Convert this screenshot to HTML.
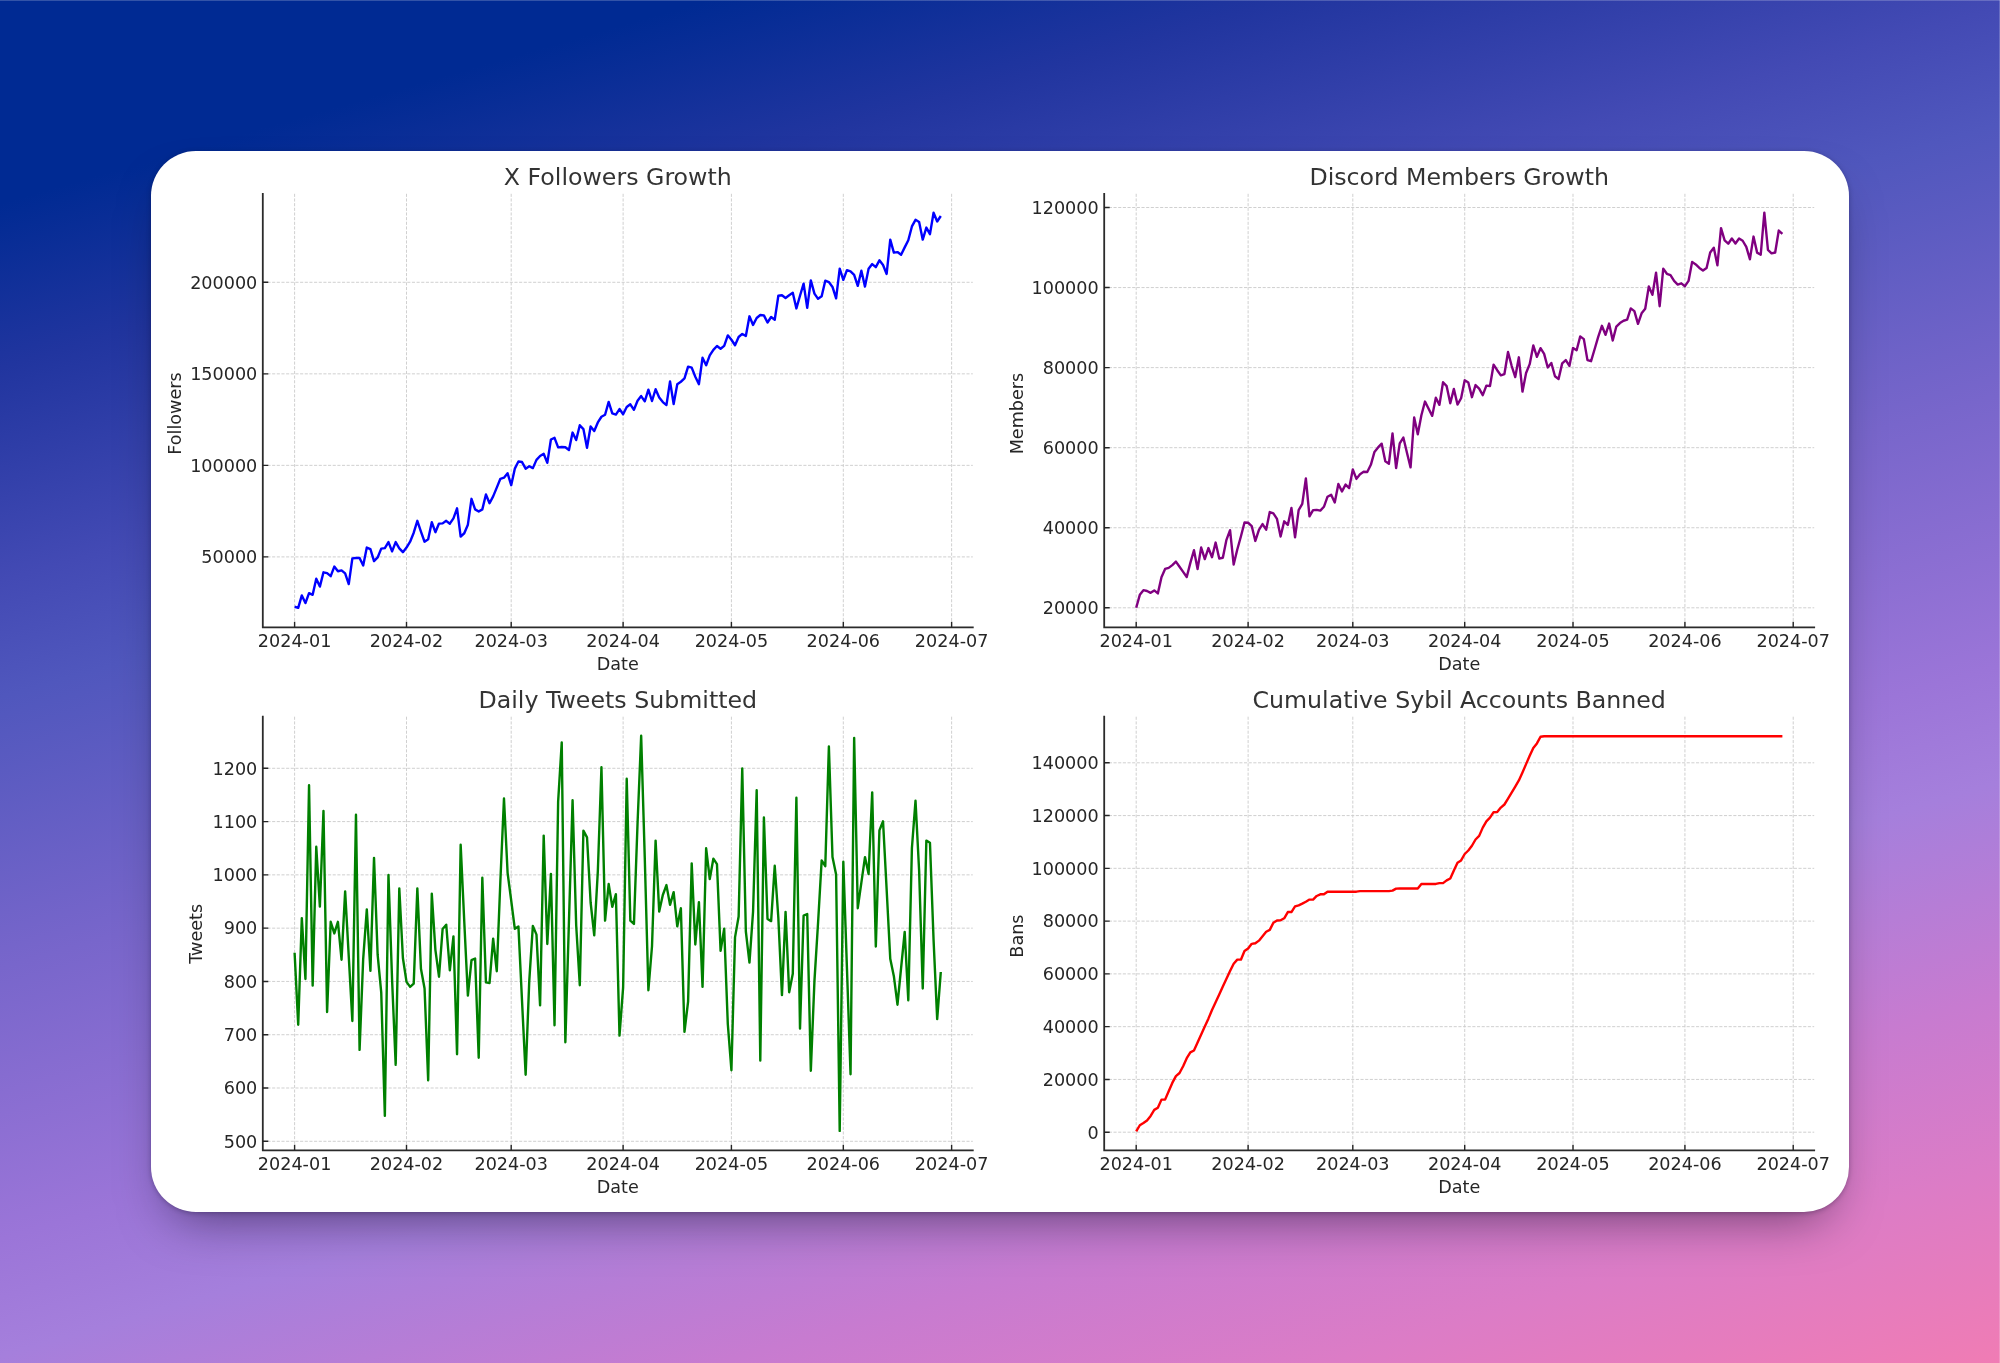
<!DOCTYPE html>
<html lang="en"><head><meta charset="utf-8"><title>Growth Charts</title>
<style>
html,body{margin:0;padding:0}
body{width:2000px;height:1363px;overflow:hidden;position:relative;font-family:"DejaVu Sans","Liberation Sans",sans-serif;
background:linear-gradient(164deg,#002a93 0%,#002a93 10.5%,#21359f 19%,#434ab4 30%,#5057bd 36%,#7866cb 50%,#9b75d8 64%,#a57fdc 70%,#c77bd0 81%,#dc7cc6 90%,#f07cb4 100%);}
.card{position:absolute;left:150.6px;top:150.7px;width:1698.6px;height:1061.5px;background:#fff;border-radius:45px;
box-shadow:0 25px 50px -20px rgba(8,0,20,.5),0 1px 5px rgba(10,0,40,.28);}
.edge-t{position:absolute;left:0;top:0;width:100%;height:1px;background:rgba(255,255,255,.2)}
.edge-r{position:absolute;right:0;top:0;width:1px;height:100%;background:rgba(255,255,255,.2)}
svg{position:absolute;left:0;top:0;filter:blur(.4px)}
.grid{fill:none;stroke:#cecece;stroke-width:.95;stroke-dasharray:3.1 1.56}
  .spine{fill:none;stroke:#2b2b2b;stroke-width:1.8;stroke-linecap:square}
.tick{fill:none;stroke:#262626;stroke-width:1.4}
.tl{font-size:17.6px;fill:#262626}
.tt{font-size:23.7px;fill:#333333}
</style></head><body>
<div class="edge-t"></div><div class="edge-r"></div>
<div class="card"></div>
<svg width="2000" height="1363" viewBox="0 0 2000 1363" font-family="DejaVu Sans, Liberation Sans, sans-serif">
<g><path d="M294.60 193.80V627.30M406.51 193.80V627.30M511.20 193.80V627.30M623.11 193.80V627.30M731.41 193.80V627.30M843.32 193.80V627.30M951.62 193.80V627.30M262.80 556.90H972.80M262.80 465.37H972.80M262.80 373.83H972.80M262.80 282.30H972.80" class="grid"/>
<polyline points="294.60,606.74 298.21,607.84 301.82,595.41 305.43,603.11 309.04,593.21 312.65,594.86 316.26,578.69 319.87,586.61 323.48,572.31 327.09,573.19 330.70,576.16 334.31,566.59 337.92,571.21 341.53,570.33 345.14,573.41 348.75,584.08 352.36,558.34 355.97,558.01 359.58,558.01 363.19,565.49 366.80,547.56 370.41,549.21 374.02,561.09 377.63,557.46 381.24,548.66 384.85,548.11 388.46,542.06 392.07,551.41 395.68,542.06 399.29,548.33 402.90,552.18 406.51,547.56 410.12,541.73 413.73,532.71 417.34,520.83 420.95,531.61 424.56,541.73 428.17,539.31 431.78,522.26 435.39,532.16 439.00,523.58 442.61,523.36 446.22,520.83 449.83,523.69 453.44,518.40 457.05,508.28 460.66,536.56 464.27,533.26 467.88,524.68 471.49,498.82 475.10,509.38 478.71,511.58 482.32,509.38 485.93,494.42 489.54,503.22 493.15,496.40 496.76,487.60 500.37,478.80 503.98,477.70 507.59,473.30 511.20,485.17 514.81,468.66 518.42,461.51 522.03,462.06 525.64,468.66 529.25,466.24 532.86,468.11 536.47,459.86 540.08,456.01 543.69,453.81 547.30,462.83 550.91,439.51 554.52,437.86 558.13,447.43 561.74,446.99 565.35,447.21 568.96,449.96 572.57,432.58 576.18,440.06 579.79,425.21 583.40,429.06 587.01,447.76 590.62,426.53 594.23,431.04 597.84,422.46 601.45,416.74 605.06,414.76 608.67,401.89 612.28,413.44 615.89,414.54 619.50,409.04 623.11,414.21 626.72,407.06 630.33,404.31 633.94,409.81 637.55,400.79 641.16,396.06 644.77,401.34 648.38,389.68 651.99,401.01 655.60,389.24 659.21,397.49 662.82,402.11 666.43,405.08 670.04,381.42 673.65,403.98 677.26,384.17 680.87,381.75 684.48,378.45 688.09,366.68 691.70,367.67 695.31,376.80 698.92,384.17 702.53,357.77 706.14,365.25 709.75,355.35 713.36,349.85 716.97,346.00 720.58,348.75 724.19,345.81 727.80,335.36 731.41,339.76 735.02,345.26 738.63,337.01 742.24,333.93 745.85,335.91 749.46,316.33 753.07,324.91 756.68,317.98 760.29,315.01 763.90,315.34 767.51,322.49 771.12,316.99 774.73,319.74 778.34,295.76 781.95,295.21 785.56,297.96 789.17,295.21 792.78,292.79 796.39,308.41 800.00,295.76 803.61,283.66 807.22,307.86 810.83,280.36 814.44,293.56 818.05,298.84 821.66,296.31 825.27,280.69 828.88,282.01 832.49,286.96 836.10,298.29 839.71,268.59 843.32,279.81 846.93,270.13 850.54,271.34 854.15,274.86 857.76,285.86 861.37,270.68 864.98,286.63 868.59,268.81 872.20,264.08 875.81,267.16 879.42,260.34 883.03,264.96 886.64,273.98 890.25,239.65 893.86,252.63 897.47,252.08 901.08,254.72 904.69,247.35 908.30,240.20 911.91,226.45 915.52,219.85 919.13,222.05 922.74,239.65 926.35,227.55 929.96,234.15 933.57,212.70 937.18,221.50 940.79,216.00" fill="none" stroke="#0000ff" stroke-width="2.4" stroke-linejoin="round" stroke-linecap="butt"/>
<path d="M262.80 193.80V627.30H972.80" class="spine"/>
<path d="M294.60 627.30v-5.5M406.51 627.30v-5.5M511.20 627.30v-5.5M623.11 627.30v-5.5M731.41 627.30v-5.5M843.32 627.30v-5.5M951.62 627.30v-5.5M262.80 556.90h5.5M262.80 465.37h5.5M262.80 373.83h5.5M262.80 282.30h5.5" class="tick"/>
<text x="294.60" y="646.90" class="tl" text-anchor="middle">2024-01</text>
<text x="406.51" y="646.90" class="tl" text-anchor="middle">2024-02</text>
<text x="511.20" y="646.90" class="tl" text-anchor="middle">2024-03</text>
<text x="623.11" y="646.90" class="tl" text-anchor="middle">2024-04</text>
<text x="731.41" y="646.90" class="tl" text-anchor="middle">2024-05</text>
<text x="843.32" y="646.90" class="tl" text-anchor="middle">2024-06</text>
<text x="951.62" y="646.90" class="tl" text-anchor="middle">2024-07</text>
<text x="257.30" y="563.20" class="tl" text-anchor="end">50000</text>
<text x="257.30" y="471.67" class="tl" text-anchor="end">100000</text>
<text x="257.30" y="380.13" class="tl" text-anchor="end">150000</text>
<text x="257.30" y="288.60" class="tl" text-anchor="end">200000</text>
<text x="617.80" y="669.70" class="tl" text-anchor="middle">Date</text>
<text x="617.80" y="184.70" class="tt" text-anchor="middle">X Followers Growth</text>
<text transform="translate(181 413.55) rotate(-90)" class="tl" text-anchor="middle">Followers</text></g>
<g><path d="M1136.20 193.80V627.30M1248.11 193.80V627.30M1352.80 193.80V627.30M1464.71 193.80V627.30M1573.01 193.80V627.30M1684.92 193.80V627.30M1793.22 193.80V627.30M1104.20 607.80H1814.20M1104.20 527.74H1814.20M1104.20 447.68H1814.20M1104.20 367.62H1814.20M1104.20 287.56H1814.20M1104.20 207.50H1814.20" class="grid"/>
<polyline points="1136.20,607.79 1139.81,594.81 1143.42,590.19 1147.03,590.96 1150.64,592.83 1154.25,590.41 1157.86,593.38 1161.47,577.21 1165.08,568.96 1168.69,567.86 1172.30,565.11 1175.91,561.59 1179.52,566.76 1183.13,571.93 1186.74,576.99 1190.35,562.91 1193.96,550.26 1197.57,568.96 1201.18,547.51 1204.79,559.06 1208.40,548.06 1212.01,557.19 1215.62,542.56 1219.23,558.51 1222.84,557.74 1226.45,539.81 1230.06,530.13 1233.67,564.56 1237.28,549.49 1240.89,536.51 1244.50,522.54 1248.11,522.76 1251.72,526.06 1255.33,540.91 1258.94,529.91 1262.55,524.08 1266.16,529.69 1269.77,512.08 1273.38,513.40 1276.99,518.91 1280.60,536.51 1284.21,521.33 1287.82,524.96 1291.43,507.90 1295.04,537.39 1298.65,510.10 1302.26,503.83 1305.87,478.42 1309.48,516.38 1313.09,510.10 1316.70,509.88 1320.31,510.65 1323.92,506.80 1327.53,496.68 1331.14,494.70 1334.75,502.40 1338.36,483.92 1341.97,491.40 1345.58,484.58 1349.19,488.10 1352.80,469.43 1356.41,478.89 1360.02,474.16 1363.63,471.74 1367.24,471.96 1370.85,464.81 1374.46,451.94 1378.07,447.43 1381.68,443.69 1385.29,461.29 1388.90,463.71 1392.51,433.46 1396.12,468.11 1399.73,443.36 1403.34,437.53 1406.95,452.71 1410.56,467.34 1414.17,417.51 1417.78,434.34 1421.39,415.31 1425.00,401.56 1428.61,408.71 1432.22,415.86 1435.83,397.71 1439.44,404.86 1443.05,382.30 1446.66,386.16 1450.27,403.21 1453.88,388.91 1457.49,404.53 1461.10,398.26 1464.71,380.32 1468.32,382.52 1471.93,397.16 1475.54,385.06 1479.15,388.58 1482.76,395.18 1486.37,385.61 1489.98,385.94 1493.59,364.70 1497.20,370.20 1500.81,375.37 1504.42,374.05 1508.03,352.05 1511.64,365.80 1515.25,377.02 1518.86,357.33 1522.47,391.66 1526.08,372.95 1529.69,364.15 1533.30,345.45 1536.91,356.78 1540.52,348.20 1544.13,353.92 1547.74,367.45 1551.35,363.05 1554.96,376.25 1558.57,379.00 1562.18,363.38 1565.79,360.10 1569.40,365.90 1573.01,348.00 1576.62,350.20 1580.23,336.40 1583.84,339.10 1587.45,360.10 1591.06,361.20 1594.67,349.00 1598.28,336.68 1601.89,325.79 1605.50,334.81 1609.11,323.59 1612.72,340.53 1616.33,326.56 1619.94,323.04 1623.55,320.73 1627.16,319.63 1630.77,308.41 1634.38,311.16 1637.99,323.81 1641.60,313.36 1645.21,308.74 1648.82,286.41 1652.43,294.88 1656.04,272.66 1659.65,306.21 1663.26,268.59 1666.87,273.76 1670.48,275.08 1674.09,280.91 1677.70,284.54 1681.31,283.33 1684.92,286.19 1688.53,280.91 1692.14,261.88 1695.75,264.41 1699.36,267.93 1702.97,270.46 1706.58,267.93 1710.19,252.52 1713.80,247.68 1717.41,265.29 1721.02,228.10 1724.63,240.42 1728.24,243.72 1731.85,238.55 1735.46,243.50 1739.07,238.55 1742.68,240.75 1746.29,246.80 1749.90,259.24 1753.51,236.57 1757.12,252.63 1760.73,254.72 1764.34,212.70 1767.95,249.88 1771.56,253.40 1775.17,252.52 1778.78,230.52 1782.39,233.82" fill="none" stroke="#800080" stroke-width="2.4" stroke-linejoin="round" stroke-linecap="butt"/>
<path d="M1104.20 193.80V627.30H1814.20" class="spine"/>
<path d="M1136.20 627.30v-5.5M1248.11 627.30v-5.5M1352.80 627.30v-5.5M1464.71 627.30v-5.5M1573.01 627.30v-5.5M1684.92 627.30v-5.5M1793.22 627.30v-5.5M1104.20 607.80h5.5M1104.20 527.74h5.5M1104.20 447.68h5.5M1104.20 367.62h5.5M1104.20 287.56h5.5M1104.20 207.50h5.5" class="tick"/>
<text x="1136.20" y="646.90" class="tl" text-anchor="middle">2024-01</text>
<text x="1248.11" y="646.90" class="tl" text-anchor="middle">2024-02</text>
<text x="1352.80" y="646.90" class="tl" text-anchor="middle">2024-03</text>
<text x="1464.71" y="646.90" class="tl" text-anchor="middle">2024-04</text>
<text x="1573.01" y="646.90" class="tl" text-anchor="middle">2024-05</text>
<text x="1684.92" y="646.90" class="tl" text-anchor="middle">2024-06</text>
<text x="1793.22" y="646.90" class="tl" text-anchor="middle">2024-07</text>
<text x="1098.70" y="614.10" class="tl" text-anchor="end">20000</text>
<text x="1098.70" y="534.04" class="tl" text-anchor="end">40000</text>
<text x="1098.70" y="453.98" class="tl" text-anchor="end">60000</text>
<text x="1098.70" y="373.92" class="tl" text-anchor="end">80000</text>
<text x="1098.70" y="293.86" class="tl" text-anchor="end">100000</text>
<text x="1098.70" y="213.80" class="tl" text-anchor="end">120000</text>
<text x="1459.20" y="669.70" class="tl" text-anchor="middle">Date</text>
<text x="1459.20" y="184.70" class="tt" text-anchor="middle">Discord Members Growth</text>
<text transform="translate(1023 413.55) rotate(-90)" class="tl" text-anchor="middle">Members</text></g>
<g><path d="M294.60 716.70V1150.30M406.51 716.70V1150.30M511.20 716.70V1150.30M623.11 716.70V1150.30M731.41 716.70V1150.30M843.32 716.70V1150.30M951.62 716.70V1150.30M262.80 1141.30H972.80M262.80 1088.01H972.80M262.80 1034.73H972.80M262.80 981.44H972.80M262.80 928.16H972.80M262.80 874.87H972.80M262.80 821.59H972.80M262.80 768.30H972.80" class="grid"/>
<polyline points="294.60,952.70 298.21,1024.80 301.82,918.10 305.43,979.00 309.04,785.30 312.65,985.60 316.26,846.70 319.87,906.60 323.48,810.90 327.09,1012.00 330.70,921.80 334.31,933.40 337.92,921.80 341.53,959.70 345.14,891.40 348.75,956.40 352.36,1021.00 355.97,814.70 359.58,1049.90 363.19,958.80 366.80,909.40 370.41,970.90 374.02,857.90 377.63,954.70 381.24,992.70 384.85,1115.90 388.46,874.90 392.07,979.50 395.68,1064.90 399.29,888.40 402.90,958.00 406.51,981.90 410.12,986.90 413.73,983.60 417.34,888.40 420.95,968.70 424.56,988.50 428.17,1080.40 431.78,893.70 435.39,949.80 439.00,976.70 442.61,929.00 446.22,924.70 449.83,970.40 453.44,936.40 457.05,1054.20 460.66,844.70 464.27,921.70 467.88,995.60 471.49,960.10 475.10,958.50 478.71,1057.80 482.32,877.70 485.93,982.40 489.54,983.10 493.15,938.70 496.76,971.20 500.37,881.00 503.98,798.50 507.59,872.80 511.20,900.50 514.81,928.80 518.42,926.40 522.03,1001.00 525.64,1074.80 529.25,981.10 532.86,925.90 536.47,934.60 540.08,1005.40 543.69,835.60 547.30,944.00 550.91,873.90 554.52,1025.30 558.13,801.80 561.74,742.40 565.35,1042.20 568.96,921.10 572.57,800.20 576.18,925.30 579.79,985.20 583.40,830.70 587.01,837.30 590.62,902.50 594.23,935.40 597.84,871.10 601.45,767.20 605.06,920.60 608.67,884.00 612.28,906.90 615.89,894.20 619.50,1035.60 623.11,987.70 626.72,778.70 630.33,920.60 633.94,923.90 637.55,823.30 641.16,735.80 644.77,858.00 648.38,990.20 651.99,946.50 655.60,840.60 659.21,911.60 662.82,895.00 666.43,885.10 670.04,904.90 673.65,892.20 677.26,926.40 680.87,908.20 684.48,1031.90 688.09,1001.70 691.70,863.40 695.31,944.50 698.92,902.10 702.53,986.90 706.14,848.30 709.75,879.00 713.36,858.70 716.97,864.20 720.58,950.90 724.19,928.70 727.80,1024.00 731.41,1070.20 735.02,937.40 738.63,916.50 742.24,768.50 745.85,931.50 749.46,962.60 753.07,911.50 756.68,790.30 760.29,1060.60 763.90,817.50 767.51,919.00 771.12,921.10 774.73,865.80 778.34,918.00 781.95,995.10 785.56,911.90 789.17,992.20 792.78,973.70 796.39,797.70 800.00,1028.60 803.61,915.70 807.22,914.00 810.83,1070.70 814.44,981.10 818.05,923.00 821.66,860.40 825.27,866.20 828.88,746.50 832.49,857.10 836.10,874.40 839.71,1130.90 843.32,861.70 846.93,967.90 850.54,1074.30 854.15,737.90 857.76,908.20 861.37,882.70 864.98,857.10 868.59,874.10 872.20,792.40 875.81,946.50 879.42,830.40 883.03,821.30 886.64,889.50 890.25,958.80 893.86,976.20 897.47,1004.70 901.08,968.20 904.69,931.90 908.30,1000.40 911.91,848.00 915.52,800.70 919.13,871.00 922.74,988.50 926.35,840.60 929.96,842.70 933.57,940.00 937.18,1019.10 940.79,972.00" fill="none" stroke="#008000" stroke-width="2.4" stroke-linejoin="round" stroke-linecap="butt"/>
<path d="M262.80 716.70V1150.30H972.80" class="spine"/>
<path d="M294.60 1150.30v-5.5M406.51 1150.30v-5.5M511.20 1150.30v-5.5M623.11 1150.30v-5.5M731.41 1150.30v-5.5M843.32 1150.30v-5.5M951.62 1150.30v-5.5M262.80 1141.30h5.5M262.80 1088.01h5.5M262.80 1034.73h5.5M262.80 981.44h5.5M262.80 928.16h5.5M262.80 874.87h5.5M262.80 821.59h5.5M262.80 768.30h5.5" class="tick"/>
<text x="294.60" y="1169.90" class="tl" text-anchor="middle">2024-01</text>
<text x="406.51" y="1169.90" class="tl" text-anchor="middle">2024-02</text>
<text x="511.20" y="1169.90" class="tl" text-anchor="middle">2024-03</text>
<text x="623.11" y="1169.90" class="tl" text-anchor="middle">2024-04</text>
<text x="731.41" y="1169.90" class="tl" text-anchor="middle">2024-05</text>
<text x="843.32" y="1169.90" class="tl" text-anchor="middle">2024-06</text>
<text x="951.62" y="1169.90" class="tl" text-anchor="middle">2024-07</text>
<text x="257.30" y="1147.60" class="tl" text-anchor="end">500</text>
<text x="257.30" y="1094.31" class="tl" text-anchor="end">600</text>
<text x="257.30" y="1041.03" class="tl" text-anchor="end">700</text>
<text x="257.30" y="987.74" class="tl" text-anchor="end">800</text>
<text x="257.30" y="934.46" class="tl" text-anchor="end">900</text>
<text x="257.30" y="881.17" class="tl" text-anchor="end">1000</text>
<text x="257.30" y="827.89" class="tl" text-anchor="end">1100</text>
<text x="257.30" y="774.60" class="tl" text-anchor="end">1200</text>
<text x="617.80" y="1192.70" class="tl" text-anchor="middle">Date</text>
<text x="617.80" y="707.60" class="tt" text-anchor="middle">Daily Tweets Submitted</text>
<text transform="translate(202 933.80) rotate(-90)" class="tl" text-anchor="middle">Tweets</text></g>
<g><path d="M1136.20 716.70V1150.30M1248.11 716.70V1150.30M1352.80 716.70V1150.30M1464.71 716.70V1150.30M1573.01 716.70V1150.30M1684.92 716.70V1150.30M1793.22 716.70V1150.30M1104.20 1132.20H1814.20M1104.20 1079.43H1814.20M1104.20 1026.66H1814.20M1104.20 973.89H1814.20M1104.20 921.11H1814.20M1104.20 868.34H1814.20M1104.20 815.57H1814.20M1104.20 762.80H1814.20" class="grid"/>
<polyline points="1136.20,1131.31 1139.81,1125.26 1143.42,1123.06 1147.03,1120.53 1150.64,1115.91 1154.25,1109.86 1157.86,1107.66 1161.47,1099.63 1165.08,1099.63 1168.69,1091.16 1172.30,1082.91 1175.91,1076.09 1179.52,1073.01 1183.13,1066.19 1186.74,1058.16 1190.35,1052.33 1193.96,1050.46 1197.57,1042.43 1201.18,1034.50 1204.79,1026.58 1208.40,1018.66 1212.01,1009.94 1215.62,1002.24 1219.23,994.43 1222.84,986.51 1226.45,978.81 1230.06,971.11 1233.67,963.74 1237.28,959.67 1240.89,959.67 1244.50,951.09 1248.11,948.56 1251.72,943.83 1255.33,943.28 1258.94,940.64 1262.55,936.24 1266.16,931.73 1269.77,929.86 1273.38,922.71 1276.99,920.51 1280.60,920.29 1284.21,918.31 1287.82,912.04 1291.43,912.04 1295.04,906.42 1298.65,905.32 1302.26,903.67 1305.87,901.80 1309.48,899.60 1313.09,899.60 1316.70,895.97 1320.31,894.32 1323.92,894.32 1327.53,891.68 1331.14,891.68 1334.75,891.68 1338.36,891.68 1341.97,891.68 1345.58,891.68 1349.19,891.68 1352.80,891.68 1356.41,891.68 1360.02,891.13 1363.63,891.13 1367.24,891.13 1370.85,891.13 1374.46,891.13 1378.07,891.13 1381.68,891.13 1385.29,891.13 1388.90,891.13 1392.51,890.58 1396.12,888.60 1399.73,888.44 1403.34,888.44 1406.95,888.44 1410.56,888.44 1414.17,888.44 1417.78,888.44 1421.39,883.93 1425.00,883.93 1428.61,883.93 1432.22,883.93 1435.83,883.93 1439.44,883.16 1443.05,883.16 1446.66,880.41 1450.27,878.43 1453.88,870.51 1457.49,862.81 1461.10,860.39 1464.71,854.01 1468.32,850.49 1471.93,845.76 1475.54,839.49 1479.15,835.86 1482.76,827.61 1486.37,821.34 1489.98,817.71 1493.59,812.21 1497.20,811.99 1500.81,807.59 1504.42,804.50 1508.03,798.67 1511.64,792.62 1515.25,786.57 1518.86,780.45 1522.47,772.50 1526.08,764.10 1529.69,755.80 1533.30,748.00 1536.91,743.40 1540.52,736.70 1544.13,736.20 1547.74,736.20 1551.35,736.20 1554.96,736.20 1558.57,736.20 1562.18,736.20 1565.79,736.20 1569.40,736.20 1573.01,736.20 1576.62,736.20 1580.23,736.20 1583.84,736.20 1587.45,736.20 1591.06,736.20 1594.67,736.20 1598.28,736.20 1601.89,736.20 1605.50,736.20 1609.11,736.20 1612.72,736.20 1616.33,736.20 1619.94,736.20 1623.55,736.20 1627.16,736.20 1630.77,736.20 1634.38,736.20 1637.99,736.20 1641.60,736.20 1645.21,736.20 1648.82,736.20 1652.43,736.20 1656.04,736.20 1659.65,736.20 1663.26,736.20 1666.87,736.20 1670.48,736.20 1674.09,736.20 1677.70,736.20 1681.31,736.20 1684.92,736.20 1688.53,736.20 1692.14,736.20 1695.75,736.20 1699.36,736.20 1702.97,736.20 1706.58,736.20 1710.19,736.20 1713.80,736.20 1717.41,736.20 1721.02,736.20 1724.63,736.20 1728.24,736.20 1731.85,736.20 1735.46,736.20 1739.07,736.20 1742.68,736.20 1746.29,736.20 1749.90,736.20 1753.51,736.20 1757.12,736.20 1760.73,736.20 1764.34,736.20 1767.95,736.20 1771.56,736.20 1775.17,736.20 1778.78,736.20 1782.39,736.20" fill="none" stroke="#ff0000" stroke-width="2.4" stroke-linejoin="round" stroke-linecap="butt"/>
<path d="M1104.20 716.70V1150.30H1814.20" class="spine"/>
<path d="M1136.20 1150.30v-5.5M1248.11 1150.30v-5.5M1352.80 1150.30v-5.5M1464.71 1150.30v-5.5M1573.01 1150.30v-5.5M1684.92 1150.30v-5.5M1793.22 1150.30v-5.5M1104.20 1132.20h5.5M1104.20 1079.43h5.5M1104.20 1026.66h5.5M1104.20 973.89h5.5M1104.20 921.11h5.5M1104.20 868.34h5.5M1104.20 815.57h5.5M1104.20 762.80h5.5" class="tick"/>
<text x="1136.20" y="1169.90" class="tl" text-anchor="middle">2024-01</text>
<text x="1248.11" y="1169.90" class="tl" text-anchor="middle">2024-02</text>
<text x="1352.80" y="1169.90" class="tl" text-anchor="middle">2024-03</text>
<text x="1464.71" y="1169.90" class="tl" text-anchor="middle">2024-04</text>
<text x="1573.01" y="1169.90" class="tl" text-anchor="middle">2024-05</text>
<text x="1684.92" y="1169.90" class="tl" text-anchor="middle">2024-06</text>
<text x="1793.22" y="1169.90" class="tl" text-anchor="middle">2024-07</text>
<text x="1098.70" y="1138.50" class="tl" text-anchor="end">0</text>
<text x="1098.70" y="1085.73" class="tl" text-anchor="end">20000</text>
<text x="1098.70" y="1032.96" class="tl" text-anchor="end">40000</text>
<text x="1098.70" y="980.19" class="tl" text-anchor="end">60000</text>
<text x="1098.70" y="927.41" class="tl" text-anchor="end">80000</text>
<text x="1098.70" y="874.64" class="tl" text-anchor="end">100000</text>
<text x="1098.70" y="821.87" class="tl" text-anchor="end">120000</text>
<text x="1098.70" y="769.10" class="tl" text-anchor="end">140000</text>
<text x="1459.20" y="1192.70" class="tl" text-anchor="middle">Date</text>
<text x="1459.20" y="707.60" class="tt" text-anchor="middle">Cumulative Sybil Accounts Banned</text>
<text transform="translate(1023 936.10) rotate(-90)" class="tl" text-anchor="middle">Bans</text></g>
</svg>
</body></html>
